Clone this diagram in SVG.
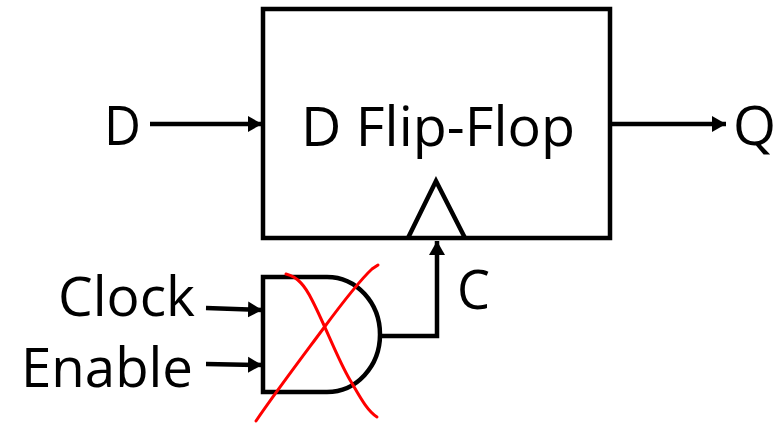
<svg xmlns="http://www.w3.org/2000/svg" width="777" height="423" viewBox="0 0 777 423">
<style>
text{font-family:"Open Sans","Noto Sans",sans-serif;font-size:55px;fill:#000}
.s{fill:none;stroke:#000;stroke-width:4.5}
.w{fill:none;stroke:#000;stroke-width:4.5;marker-end:url(#a)}
.x{fill:none;stroke:#f00;stroke-width:3;stroke-linecap:round}
</style>
<defs><marker id="a" markerUnits="userSpaceOnUse" markerWidth="17" markerHeight="18" refX="14" refY="9" orient="auto"><path d="M0 1L14 9L0 17z" fill="#000"/></marker></defs>
<rect width="777" height="423" fill="#fff"/>
<g id="flipflop">
<rect class="s" x="263" y="9" width="347" height="229"/>
<path class="s" d="M408 238L436 181L465 238"/>
<text x="301" y="146" textLength="274" lengthAdjust="spacingAndGlyphs">D Flip-Flop</text>
</g>
<g id="gate">
<path class="s" d="M263 277H327A53 57.500 0 0 1 327 392H263z"/>
</g>
<g id="label-d"><text x="104" y="145" textLength="37" lengthAdjust="spacingAndGlyphs">D</text></g>
<g id="label-q"><text x="733" y="145" textLength="43" lengthAdjust="spacingAndGlyphs">Q</text></g>
<g id="label-c"><text x="457" y="309" textLength="33" lengthAdjust="spacingAndGlyphs">C</text></g>
<g id="label-clock"><text x="58" y="316" textLength="137" lengthAdjust="spacingAndGlyphs">Clock</text></g>
<g id="label-enable"><text x="21" y="387" textLength="172" lengthAdjust="spacingAndGlyphs">Enable</text></g>
<g id="connectors">
<path class="w" d="M150 124H262"/>
<path class="w" d="M610 124H726"/>
<path class="w" d="M206 308L262 310"/>
<path class="w" d="M206 364L262 365"/>
<path class="w" d="M381 336H437V241"/>
</g>
<g id="cross">
<path class="x" d="M286 274C298 277 305 286 312 300C325 325 338 360 350 380C358 393 366 410 377 417"/>
<path class="x" d="M256 421C275 393 300 360 323 329C340 306 358 282 372 269L378 265"/>
</g>
</svg>
